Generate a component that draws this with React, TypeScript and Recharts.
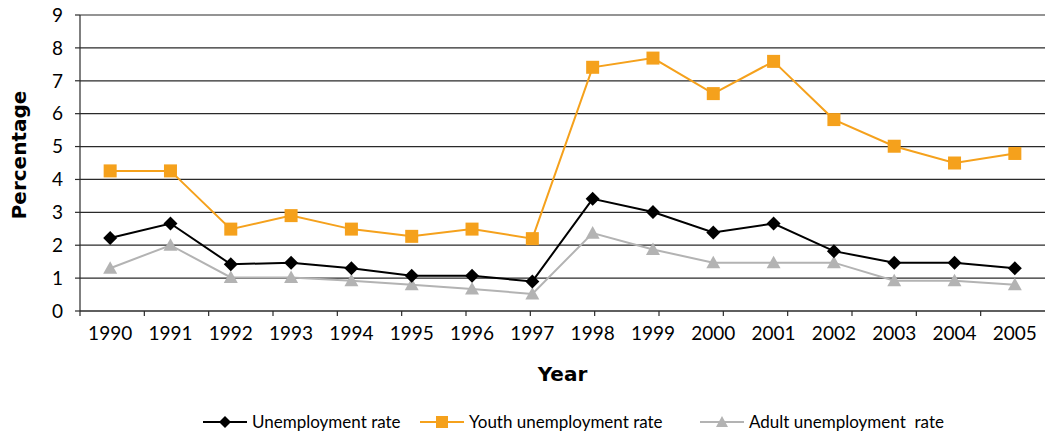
import React from 'react';
import { LineChart, Line, XAxis, YAxis, CartesianGrid, Legend } from 'recharts';

const years = ['1990','1991','1992','1993','1994','1995','1996','1997','1998','1999','2000','2001','2002','2003','2004','2005'];
const unemployment = [2.22, 2.66, 1.42, 1.47, 1.3, 1.07, 1.07, 0.9, 3.41, 3.01, 2.39, 2.66, 1.82, 1.47, 1.47, 1.3];
const youth = [4.26, 4.26, 2.49, 2.9, 2.49, 2.27, 2.49, 2.2, 7.41, 7.69, 6.61, 7.59, 5.82, 5.01, 4.5, 4.79];
const adult = [1.3, 2.0, 1.02, 1.02, 0.92, 0.8, 0.67, 0.52, 2.37, 1.87, 1.47, 1.47, 1.47, 0.92, 0.92, 0.8];
const yTicks = [0, 1, 2, 3, 4, 5, 6, 7, 8, 9];
const boundaryTicks = [0, 1, 2, 3, 4, 5, 6, 7, 8, 9, 10, 11, 12, 13, 14, 15, 16];

const data = years.map((y, i) => ({ year: y, u: unemployment[i], youth: youth[i], adult: adult[i] }));

const C_U = '#000000';
const C_Y = '#F5A11C';
const C_A = '#B3B3B3';
const AX = '#2a2a2a';
const FONT = 'Lato, "Noto Sans", sans-serif';
const BOLD_FONT = '"DejaVu Sans", sans-serif';

const Diamond = (p: any) => {
  const { cx, cy, key } = p;
  if (cx == null || cy == null) return null;
  const r = 7;
  return <path key={key} d={`M${cx},${cy - r}L${cx + r},${cy}L${cx},${cy + r}L${cx - r},${cy}Z`} fill={C_U} />;
};
const Square = (p: any) => {
  const { cx, cy, key } = p;
  if (cx == null || cy == null) return null;
  const s = 6.5;
  return <rect key={key} x={cx - s} y={cy - s} width={2 * s} height={2 * s} fill={C_Y} />;
};
const Triangle = (p: any) => {
  const { cx, cy, key } = p;
  if (cx == null || cy == null) return null;
  const s = 7;
  return <path key={key} d={`M${cx},${cy - s}L${cx + s},${cy + s * 0.8}L${cx - s},${cy + s * 0.8}Z`} fill={C_A} />;
};

const legendItems = [
  { label: 'Unemployment rate', color: C_U, marker: 'diamond', left: 203 },
  { label: 'Youth unemployment rate', color: C_Y, marker: 'square', left: 420 },
  { label: 'Adult unemployment\u00a0 rate', color: C_A, marker: 'triangle', left: 700 },
];

const LegendContent = () => (
  <div style={{ position: 'relative', width: 1045, height: 42, fontFamily: FONT, fontSize: 17, color: '#000' }}>
    {legendItems.map((it) => (
      <div key={it.label} style={{ position: 'absolute', left: it.left, top: 20, display: 'flex', alignItems: 'center', whiteSpace: 'pre' }}>
        <svg width={44} height={16} style={{ display: 'block' }}>
          <line x1={0} y1={8} x2={44} y2={8} stroke={it.color} strokeWidth={2} />
          {it.marker === 'diamond' && <path d="M22,2L28,8L22,14L16,8Z" fill={it.color} />}
          {it.marker === 'square' && <rect x={16} y={2} width={12} height={12} fill={it.color} />}
          {it.marker === 'triangle' && <path d="M22,2L28,13L16,13Z" fill={it.color} />}
        </svg>
        <span style={{ marginLeft: 5 }}>{it.label}</span>
      </div>
    ))}
  </div>
);

const YLabel = () => (
  <text
    x={19}
    y={155}
    transform="rotate(-90, 19, 155)"
    textAnchor="middle"
    dominantBaseline="central"
    fontFamily={BOLD_FONT}
    fontWeight={700}
    fontSize={20}
    fill="#000"
  >
    Percentage
  </text>
);

export default function App() {
  return (
    <div style={{ position: 'absolute', left: 0, top: 0, width: 1045, height: 433, background: '#fff' }}>
      <LineChart width={1045} height={433} data={data} margin={{ top: 15, right: 0, bottom: 0, left: 0 }}>
        <CartesianGrid horizontal vertical={false} stroke={AX} strokeWidth={1.2} yAxisId="y" xAxisId="b" />
        <XAxis
          xAxisId="a"
          type="number"
          domain={[0, 16]}
          ticks={boundaryTicks}
          allowDataOverflow
          height={1}
          tick={{ fontSize: 1, fill: 'none' }}
          tickFormatter={() => ''}
          tickLine={{ stroke: AX, strokeWidth: 1.2 }}
          tickSize={5}
          axisLine={{ stroke: AX, strokeWidth: 1.2 }}
        />
        <XAxis
          xAxisId="b"
          dataKey="year"
          scale="band"
          height={79}
          tickLine={false}
          axisLine={false}
          tickSize={0}
          tickMargin={15}
          interval={0}
          tick={{ fill: '#000', fontSize: 19, fontFamily: FONT }}
          label={{ value: 'Year', position: 'insideBottom', offset: 10, fill: '#000', fontSize: 20, fontWeight: 700, fontFamily: BOLD_FONT }}
        />
        <YAxis
          yAxisId="y"
          width={80}
          domain={[0, 9]}
          ticks={yTicks}
          interval={0}
          tickSize={5}
          tickMargin={12}
          tickLine={{ stroke: AX, strokeWidth: 1.2 }}
          axisLine={{ stroke: AX, strokeWidth: 1.2 }}
          tick={{ fill: '#000', fontSize: 19, fontFamily: FONT }}
          label={<YLabel />}
        />
        <Legend verticalAlign="bottom" wrapperStyle={{ left: 0, width: 1045, height: 42 }} content={<LegendContent />} />
        <Line xAxisId="b" yAxisId="y" type="linear" dataKey="youth" stroke={C_Y} strokeWidth={2} dot={Square} isAnimationActive={false} />
        <Line xAxisId="b" yAxisId="y" type="linear" dataKey="adult" stroke={C_A} strokeWidth={2} dot={Triangle} isAnimationActive={false} />
        <Line xAxisId="b" yAxisId="y" type="linear" dataKey="u" stroke={C_U} strokeWidth={2} dot={Diamond} isAnimationActive={false} />
      </LineChart>
    </div>
  );
}
